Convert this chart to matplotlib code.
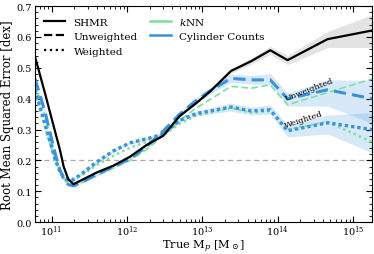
import numpy as np
import matplotlib
matplotlib.use('Agg')
import matplotlib.pyplot as plt
from matplotlib.lines import Line2D
from matplotlib.ticker import MultipleLocator

plt.rcParams['font.family'] = 'DejaVu Serif'
plt.rcParams['mathtext.fontset'] = 'dejavuserif'

# log10 of true halo mass at each bin
logm = [10.78, 10.91, 11.05, 11.11, 11.16, 11.22, 11.29, 11.42, 11.6, 11.82, 12.04,
        12.26, 12.48, 12.7, 12.92, 13.1, 13.38, 13.65, 13.9, 14.13, 14.66, 15.25]

shmr = [0.536, 0.42, 0.29, 0.235, 0.18, 0.14, 0.123, 0.139, 0.161, 0.183, 0.212,
        0.25, 0.28, 0.344, 0.386, 0.423, 0.49, 0.522, 0.557, 0.525, 0.593, 0.621]
shmr_lo = [0.533, 0.417, 0.287, 0.232, 0.177, 0.137, 0.120, 0.136, 0.158, 0.180, 0.209,
           0.247, 0.277, 0.340, 0.382, 0.418, 0.482, 0.512, 0.544, 0.510, 0.566, 0.566]
shmr_hi = [0.539, 0.423, 0.293, 0.238, 0.183, 0.143, 0.126, 0.142, 0.164, 0.186, 0.215,
           0.253, 0.283, 0.348, 0.390, 0.428, 0.498, 0.532, 0.570, 0.540, 0.618, 0.672]

cyl_unw = [0.465, 0.36, 0.22, 0.17, 0.14, 0.122, 0.118, 0.132, 0.155, 0.18, 0.205,
           0.245, 0.295, 0.35, 0.395, 0.425, 0.466, 0.461, 0.461, 0.40, 0.429, 0.40]
cyl_unw_lo = [0.46, 0.355, 0.215, 0.165, 0.135, 0.117, 0.113, 0.127, 0.150, 0.175, 0.200,
              0.240, 0.289, 0.343, 0.387, 0.415, 0.452, 0.448, 0.445, 0.376, 0.376, 0.32]
cyl_unw_hi = [0.47, 0.365, 0.225, 0.175, 0.145, 0.127, 0.123, 0.137, 0.160, 0.185, 0.210,
              0.250, 0.301, 0.357, 0.403, 0.435, 0.48, 0.475, 0.482, 0.418, 0.461, 0.46]

cyl_w = [0.43, 0.32, 0.2, 0.165, 0.145, 0.136, 0.137, 0.161, 0.195, 0.231, 0.257,
         0.27, 0.285, 0.33, 0.352, 0.36, 0.373, 0.36, 0.364, 0.296, 0.322, 0.30]
cyl_w_lo = [0.425, 0.315, 0.195, 0.160, 0.140, 0.131, 0.132, 0.156, 0.190, 0.226, 0.252,
            0.265, 0.279, 0.323, 0.344, 0.350, 0.360, 0.347, 0.350, 0.276, 0.286, 0.225]
cyl_w_hi = [0.435, 0.325, 0.205, 0.170, 0.150, 0.141, 0.142, 0.166, 0.200, 0.236, 0.262,
            0.275, 0.291, 0.337, 0.360, 0.370, 0.386, 0.373, 0.380, 0.315, 0.347, 0.355]

knn_unw = [0.45, 0.35, 0.215, 0.17, 0.14, 0.123, 0.12, 0.13, 0.15, 0.175, 0.2,
           0.235, 0.28, 0.33, 0.37, 0.397, 0.44, 0.434, 0.445, 0.38, 0.42, 0.464]
knn_w = [0.42, 0.31, 0.2, 0.165, 0.148, 0.14, 0.142, 0.155, 0.185, 0.215, 0.241,
         0.26, 0.28, 0.32, 0.345, 0.355, 0.37, 0.355, 0.36, 0.30, 0.325, 0.26]

blue = '#3a92dc'
green = '#7fe0a0'

m = 10 ** np.array(logm)

fig = plt.figure(figsize=(3.74, 2.55), dpi=100)
ax = fig.add_axes([0.0936, 0.125, 0.9011, 0.847])

ax.axhline(0.2, color='#aaaaaa', ls='--', lw=0.9, dashes=(4, 3), zorder=0)

ax.fill_between(m, shmr_lo, shmr_hi, color='#bbbbbb', alpha=0.4, lw=0)
ax.fill_between(m, cyl_unw_lo, cyl_unw_hi, color=blue, alpha=0.2, lw=0)
ax.fill_between(m, cyl_w_lo, cyl_w_hi, color=blue, alpha=0.2, lw=0)

ax.plot(m, knn_unw, color=green, ls=(0, (4, 2)), lw=1.2)
ax.plot(m, knn_w, color=green, ls=(0, (1, 1.3)), lw=1.8)
ax.plot(m, cyl_unw, color=blue, ls=(0, (4, 2)), lw=2.2)
ax.plot(m, cyl_w, color=blue, ls=(0, (1, 0.9)), lw=2.4)
ax.plot(m, shmr, color='k', lw=1.6)

ax.text(10**14.42, 0.431, 'Unweighted', fontsize=6, rotation=21,
        ha='center', va='center')
ax.text(10**14.34, 0.334, 'Weighted', fontsize=6, rotation=18,
        ha='center', va='center')

ax.set_xscale('log')
ax.set_xlim(10**10.78, 10**15.25)
ax.set_ylim(0, 0.7)
ax.yaxis.set_major_locator(MultipleLocator(0.1))
ax.yaxis.set_minor_locator(MultipleLocator(0.02))
ax.tick_params(which='both', direction='in', top=True, right=True, labelsize=7)
ax.tick_params(which='major', length=4, width=0.8)
ax.tick_params(which='minor', length=2, width=0.6)
ax.tick_params(axis='x', which='major', pad=1)
ax.tick_params(axis='y', which='major', pad=2)
for s in ax.spines.values():
    s.set_linewidth(0.8)

ax.set_xlabel(r'True M$_p$ [M$_\odot$]', fontsize=8.2, labelpad=-0.5)
ax.set_ylabel('Root Mean Squared Error [dex]', fontsize=8.5, labelpad=2)

handles = [Line2D([], [], color='k', lw=1.6),
           Line2D([], [], color='k', lw=1.6, ls='--'),
           Line2D([], [], color='k', lw=1.6, ls=':'),
           Line2D([], [], color=green, lw=1.8),
           Line2D([], [], color=blue, lw=1.8)]
labels = ['SHMR', 'Unweighted', 'Weighted', r'$k$NN', 'Cylinder Counts']
ax.legend(handles, labels, ncol=2, frameon=False, fontsize=7.5,
          loc='upper left', bbox_to_anchor=(0.0, 1.0),
          handlelength=2.0, handletextpad=0.8, columnspacing=1.2,
          labelspacing=0.5)

fig.savefig('out.png', dpi=100)
